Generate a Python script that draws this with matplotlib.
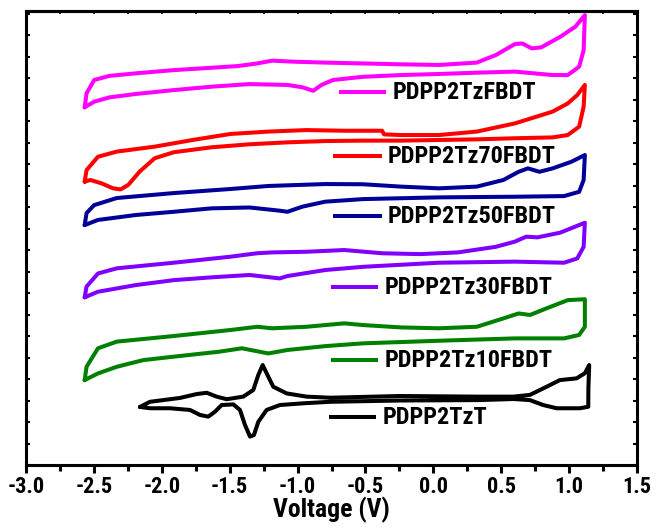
import matplotlib
matplotlib.use('Agg')
import matplotlib.pyplot as plt
from matplotlib.ticker import MultipleLocator, NullFormatter

# ─── Data (cyclic voltammograms, current in arbitrary offset units) ─────────
LABELS = ["PDPP2TzFBDT", "PDPP2Tz70FBDT", "PDPP2Tz50FBDT",
          "PDPP2Tz30FBDT", "PDPP2Tz10FBDT", "PDPP2TzT"]

v_fbdt = [-2.568, -2.554, -2.498, -2.387, -2.191, -1.912, -1.633, -1.438, -1.298, -1.187,
          -1.019, -0.796, -0.517, -0.238, 0.041, 0.320, 0.460, 0.600, 0.655, 0.725,
          0.795, 0.935, 1.046, 1.116, 1.107, 1.074, 0.990, 0.879, 0.600, 0.320,
          0.041, -0.238, -0.517, -0.740, -0.824, -0.885, -0.963, -1.075, -1.354, -1.633,
          -1.912, -2.191, -2.387, -2.498, -2.568]
i_fbdt = [16.64, 17.29, 17.91, 18.10, 18.22, 18.37, 18.48, 18.56, 18.68, 18.81,
          18.76, 18.72, 18.68, 18.64, 18.61, 18.72, 19.07, 19.58, 19.61, 19.38,
          19.43, 19.92, 20.39, 20.93, 19.30, 18.53, 18.14, 18.14, 18.30, 18.25,
          18.19, 18.14, 18.06, 17.91, 17.68, 17.41, 17.57, 17.68, 17.72, 17.60,
          17.44, 17.26, 17.10, 16.90, 16.64]

v_70 = [-2.568, -2.554, -2.470, -2.331, -2.052, -1.773, -1.494, -1.215, -0.935, -0.656,
        -0.377, -0.363, -0.238, 0.041, 0.320, 0.600, 0.879, 0.990, 1.060, 1.116,
        1.107, 1.074, 0.990, 0.879, 0.600, 0.320, 0.041, -0.238, -0.517, -0.796,
        -1.075, -1.354, -1.633, -1.912, -2.052, -2.163, -2.247, -2.303, -2.359, -2.443,
        -2.526, -2.568]
i_70 = [13.18, 13.72, 14.34, 14.58, 14.81, 15.12, 15.40, 15.51, 15.58, 15.55,
        15.55, 15.38, 15.35, 15.35, 15.51, 15.89, 16.44, 16.82, 17.21, 17.68,
        16.67, 15.74, 15.35, 15.24, 15.20, 15.15, 15.12, 15.09, 15.09, 15.07,
        15.01, 14.92, 14.78, 14.55, 14.27, 13.65, 13.03, 12.82, 12.87, 13.10,
        13.26, 13.18]

v_50 = [-2.568, -2.554, -2.498, -2.331, -1.912, -1.494, -1.215, -0.796, -0.517, -0.238,
        0.041, 0.320, 0.516, 0.628, 0.697, 0.781, 0.879, 1.018, 1.116, 1.107,
        1.074, 0.963, 0.600, 0.041, -0.517, -0.796, -0.963, -1.075, -1.131, -1.354,
        -1.633, -1.912, -2.191, -2.470, -2.568]
i_50 = [11.16, 11.72, 12.09, 12.42, 12.65, 12.84, 12.98, 13.07, 13.06, 12.95,
        12.87, 12.95, 13.26, 13.64, 13.80, 13.64, 13.80, 14.11, 14.42, 13.26,
        12.71, 12.51, 12.48, 12.45, 12.37, 12.25, 12.02, 11.78, 11.83, 11.98,
        11.94, 11.78, 11.63, 11.40, 11.16]

v_30 = [-2.568, -2.554, -2.470, -2.331, -1.912, -1.494, -1.298, -1.187, -0.935, -0.656,
        -0.377, -0.098, 0.181, 0.460, 0.600, 0.684, 0.767, 0.935, 1.116, 1.107,
        1.060, 0.963, 0.600, 0.041, -0.517, -0.796, -1.075, -1.131, -1.354, -1.633,
        -1.912, -2.191, -2.470, -2.568]
i_30 = [7.80, 8.30, 8.91, 9.15, 9.41, 9.69, 9.85, 9.89, 9.92, 10.00,
        9.85, 9.81, 9.89, 10.15, 10.39, 10.62, 10.59, 10.81, 11.27, 10.15,
        9.61, 9.41, 9.46, 9.41, 9.22, 9.07, 8.79, 8.68, 8.84, 8.73,
        8.60, 8.37, 8.06, 7.80]

v_10 = [-2.568, -2.554, -2.470, -2.331, -1.912, -1.494, -1.298, -1.187, -0.935, -0.656,
        -0.517, -0.238, 0.041, 0.320, 0.516, 0.628, 0.712, 0.851, 0.990, 1.116,
        1.116, 1.074, 0.963, 0.600, 0.041, -0.517, -0.796, -1.075, -1.215, -1.410,
        -1.578, -1.912, -2.136, -2.331, -2.470, -2.568]
i_10 = [3.95, 4.57, 5.43, 5.74, 6.00, 6.28, 6.43, 6.36, 6.43, 6.59,
        6.51, 6.40, 6.36, 6.43, 6.82, 7.05, 6.98, 7.33, 7.67, 7.71,
        6.43, 6.05, 5.89, 5.89, 5.78, 5.66, 5.53, 5.35, 5.19, 5.43,
        5.27, 5.04, 4.88, 4.57, 4.26, 3.95]

v_tzt = [-2.161, -2.087, -1.866, -1.743, -1.669, -1.596, -1.522, -1.400, -1.326, -1.289,
         -1.257, -1.228, -1.179, -1.080, -0.933, -0.761, -0.246, 0.343, 0.588, 0.711,
         0.834, 0.932, 1.055, 1.116, 1.148, 1.142, 1.141, 1.080, 0.908, 0.809,
         0.711, 0.588, 0.343, -0.246, -0.761, -0.958, -1.130, -1.228, -1.289, -1.321,
         -1.350, -1.387, -1.424, -1.473, -1.559, -1.608, -1.658, -1.719, -1.792, -1.940,
         -2.087, -2.161]
i_tzt = [2.70, 2.94, 3.12, 3.30, 3.36, 3.18, 3.06, 3.18, 3.49, 4.19,
         4.65, 4.27, 3.64, 3.33, 3.18, 3.13, 3.21, 3.18, 3.18, 3.26,
         3.64, 3.95, 4.03, 4.27, 4.65, 3.57, 2.71, 2.64, 2.64, 2.79,
         3.02, 3.07, 3.02, 3.00, 2.94, 2.87, 2.79, 2.56, 2.01, 1.40,
         1.32, 1.86, 2.56, 2.82, 2.79, 2.48, 2.25, 2.33, 2.56, 2.64,
         2.64, 2.70]

VOLTS = [v_fbdt, v_70, v_50, v_30, v_10, v_tzt]
CURRENTS = [i_fbdt, i_70, i_50, i_30, i_10, i_tzt]

# ─── Style ──────────────────────────────────────────────────────────────────
COLORS = ["#FF00FF", "#FF0000", "#000099", "#8000FF", "#008000", "#000000"]
# in-plot label anchors: (line start, line end, y, text x)
LABEL_POS = [(-0.695, -0.349, 17.35, -0.30),
             (-0.739, -0.378, 14.37, -0.34),
             (-0.739, -0.378, 11.58, -0.34),
             (-0.754, -0.408, 8.28, -0.36),
             (-0.754, -0.408, 4.88, -0.36),
             (-0.769, -0.423, 2.23, -0.37)]

plt.rcParams["font.family"] = ["Roboto Condensed", "Liberation Sans", "DejaVu Sans"]
plt.rcParams["font.weight"] = "bold"

fig = plt.figure(figsize=(6.57, 5.29), dpi=100)
ax = fig.add_axes([26/657, 64/529, 611/657, 454/529])

for v, i, c, lab, pos in zip(VOLTS, CURRENTS, COLORS, LABELS, LABEL_POS):
    ax.plot(v, i, color=c, lw=2.9, solid_joinstyle="round", solid_capstyle="round")
    x0, x1, y, xt = pos
    ax.plot([x0, x1], [y, y], color=c, lw=2.9, solid_capstyle="butt")
    ax.text(xt, y, lab, fontsize=17.5, fontweight="bold", va="center", ha="left")

ax.set_xlim(-3.0, 1.5)
ax.set_ylim(0, 21.12)

ax.xaxis.set_major_locator(MultipleLocator(0.5))
ax.xaxis.set_minor_locator(MultipleLocator(0.25))
ax.yaxis.set_major_locator(MultipleLocator(1))
ax.yaxis.set_major_formatter(NullFormatter())
ax.xaxis.set_major_formatter(plt.FuncFormatter(lambda x, _: f"{x:.1f}"))

ax.tick_params(axis="x", which="major", direction="out", length=6, width=2.2,
               labelsize=16, pad=2)
ax.tick_params(axis="x", which="minor", direction="out", length=4, width=2.2)
ax.tick_params(axis="y", which="major", direction="in", length=3, width=1.5,
               left=True, right=True)

# tiny inward ticks along the top edge
top = ax.secondary_xaxis("top")
top.xaxis.set_major_locator(MultipleLocator(0.25))
top.xaxis.set_major_formatter(NullFormatter())
top.tick_params(direction="in", length=2, width=1.2)
top.spines["top"].set_linewidth(2.2)

for s in ax.spines.values():
    s.set_linewidth(2.2)

ax.set_xlabel("Voltage (V)", fontsize=18.5, fontweight="bold", labelpad=-1)

fig.savefig("out.png", dpi=100)
